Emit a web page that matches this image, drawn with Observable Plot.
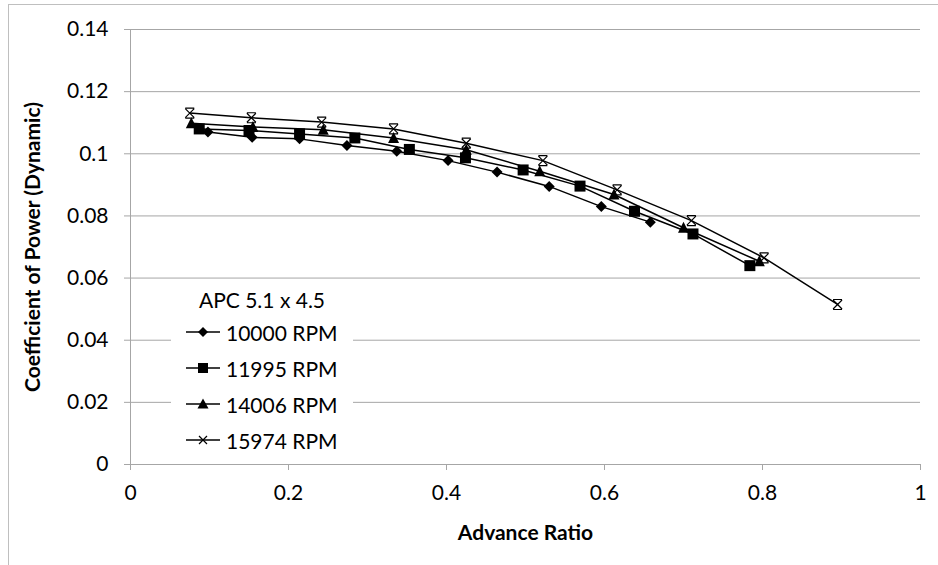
<!DOCTYPE html>
<html><head><meta charset="utf-8">
<script src="https://cdn.jsdelivr.net/npm/d3@7"></script>
<script src="https://cdn.jsdelivr.net/npm/@observablehq/plot@0.6"></script>
<style>
body{margin:0;background:#fff;}
#wrap{position:relative;width:938px;height:565px;overflow:hidden;font-family:Lato,"Open Sans",sans-serif;}
#border{position:absolute;left:8px;top:4px;width:1000px;height:1000px;border:1px solid #bfbfbf;box-sizing:border-box;}
#chart{position:absolute;left:0;top:0;}
#legend{position:absolute;left:171px;top:284px;width:182px;height:172px;background:#fff;}
.lt{position:absolute;left:0;width:100%;text-align:center;font-size:21px;color:#000;line-height:1;}
.row{position:absolute;left:15px;height:24px;display:flex;align-items:center;font-size:21px;color:#000;}
.row svg{margin-right:5px;}
</style></head><body>
<div id="wrap"><div id="border"></div><div id="chart"></div><div id="legend"></div></div>
<script>
// ---- data ----
const seriesNames = ["10000 RPM", "11995 RPM", "14006 RPM", "15974 RPM"];
const xTicks = [0, 0.2, 0.4, 0.6, 0.8, 1];
const yTicks = [0, 0.02, 0.04, 0.06, 0.08, 0.1, 0.12, 0.14];
const legendTitle = "APC 5.1 x 4.5";
const xTitle = "Advance Ratio";
const yTitle = "Coefficient of Power (Dynamic)";

const j10000  = [0.098, 0.154, 0.214, 0.274, 0.337, 0.402, 0.464, 0.530, 0.596, 0.658];
const cp10000 = [0.1070, 0.1053, 0.1048, 0.1027, 0.1008, 0.0978, 0.0941, 0.0895, 0.0830, 0.0780];

const j11995  = [0.087, 0.150, 0.214, 0.284, 0.353, 0.424, 0.497, 0.569, 0.638, 0.712, 0.784];
const cp11995 = [0.1080, 0.1075, 0.1064, 0.1051, 0.1014, 0.0987, 0.0948, 0.0896, 0.0815, 0.0742, 0.0640];

const j14006  = [0.077, 0.155, 0.244, 0.333, 0.425, 0.518, 0.612, 0.700, 0.796];
const cp14006 = [0.1098, 0.1086, 0.1077, 0.1051, 0.1013, 0.0944, 0.0869, 0.0762, 0.0654];

const j15974  = [0.075, 0.153, 0.242, 0.333, 0.425, 0.522, 0.616, 0.710, 0.802, 0.895];
const cp15974 = [0.1131, 0.1116, 0.1102, 0.1080, 0.1034, 0.0978, 0.0884, 0.0785, 0.0665, 0.0515];

// ---- build rows ----
const rows = (js, cps, s) => js.map((j, i) => ({series: s, J: j, Cp: cps[i]}));
const d0 = rows(j10000, cp10000, seriesNames[0]);
const d1 = rows(j11995, cp11995, seriesNames[1]);
const d2 = rows(j14006, cp14006, seriesNames[2]);
const d3s = rows(j15974, cp15974, seriesNames[3]);

// ---- custom symbols ----
const symDiamond = {draw(c){const h=5.5;c.moveTo(0,-h);c.lineTo(h,0);c.lineTo(0,h);c.lineTo(-h,0);c.closePath();}};
const symSquare = {draw(c){const h=5.5;c.moveTo(-h,-h);c.lineTo(h,-h);c.lineTo(h,h);c.lineTo(-h,h);c.closePath();}};
const symTri = {draw(c){c.moveTo(0,-6);c.lineTo(5.5,5);c.lineTo(-5.5,5);c.closePath();}};
const symCross = {draw(c){const h=4.5;c.moveTo(-h,-h);c.lineTo(h,h);c.moveTo(h,-h);c.lineTo(-h,h);c.moveTo(-h,-h-0.5);c.lineTo(h,-h-0.5);c.moveTo(-h,h+0.5);c.lineTo(h,h+0.5);}};

const grid = "#a6a6a6";
const fmt = d => String(d);

const plot = Plot.plot({
  width: 938, height: 565,
  marginLeft: 130, marginRight: 18, marginTop: 29, marginBottom: 101,
  style: {fontFamily: "Lato, 'Open Sans', sans-serif", fontSize: "21px", color: "#000", background: "transparent", overflow: "visible"},
  x: {domain: [0, 1]},
  y: {domain: [0, 0.14]},
  marks: [
    Plot.gridY(yTicks.filter(d => d > 0), {stroke: grid, strokeOpacity: 1, strokeWidth: 1}),
    Plot.ruleX([0], {stroke: grid, strokeWidth: 1}),
    Plot.ruleY([0], {stroke: grid, strokeWidth: 1}),
    Plot.axisY({ticks: yTicks, tickFormat: fmt, tickSize: 6, tickPadding: 16, stroke: grid, label: null, fontSize: 21}),
    Plot.axisX({ticks: xTicks, tickFormat: fmt, tickSize: 6, tickPadding: 15, stroke: grid, label: null, fontSize: 21}),
    Plot.line(d0, {x: "J", y: "Cp", stroke: "#000", strokeWidth: 1.5}),
    Plot.line(d1, {x: "J", y: "Cp", stroke: "#000", strokeWidth: 1.5}),
    Plot.line(d2, {x: "J", y: "Cp", stroke: "#000", strokeWidth: 1.5}),
    Plot.line(d3s, {x: "J", y: "Cp", stroke: "#000", strokeWidth: 1.5}),
    Plot.dot(d0, {x: "J", y: "Cp", symbol: symDiamond, r: 5, fill: "#000", stroke: "none"}),
    Plot.dot(d1, {x: "J", y: "Cp", symbol: symSquare, r: 5, fill: "#000", stroke: "none"}),
    Plot.dot(d2, {x: "J", y: "Cp", symbol: symTri, r: 5, fill: "#000", stroke: "none"}),
    Plot.dot(d3s, {x: "J", y: "Cp", symbol: symCross, r: 5, fill: "none", stroke: "#000", strokeWidth: 1.2}),
    Plot.text([xTitle], {text: d => d, frameAnchor: "bottom", dy: 75, fontWeight: "bold", fontSize: 21}),
    Plot.text([yTitle], {text: d => d, frameAnchor: "left", textAnchor: "middle", dx: -97, rotate: -90, fontWeight: "bold", fontSize: 21})
  ]
});
document.getElementById("chart").appendChild(plot);

// ---- legend ----
const legend = document.getElementById("legend");
const t = document.createElement("div");
t.className = "lt"; t.style.top = "5px"; t.textContent = legendTitle;
legend.appendChild(t);
const legendSyms = [
  '<path d="M17,-5L22,0L17,5L12,0Z" fill="#000"/>',
  '<path d="M12,-5H22V5H12Z" fill="#000"/>',
  '<path d="M17,-5.5L22.5,4.5L11.5,4.5Z" fill="#000"/>',
  '<path d="M13,-4L21,4M21,-4L13,4" stroke="#000" stroke-width="1.2" fill="none"/>'
];
const rowY = [36, 72, 108, 144];
seriesNames.forEach((s, i) => {
  const r = document.createElement("div");
  r.className = "row"; r.style.top = rowY[i] + "px";
  r.innerHTML = '<svg width="35" height="14" viewBox="0 -7 35 14"><line x1="0" y1="0" x2="34" y2="0" stroke="#000" stroke-width="1.5"/>' + legendSyms[i] + '</svg><span>' + s + '</span>';
  legend.appendChild(r);
});
</script>
</body></html>
